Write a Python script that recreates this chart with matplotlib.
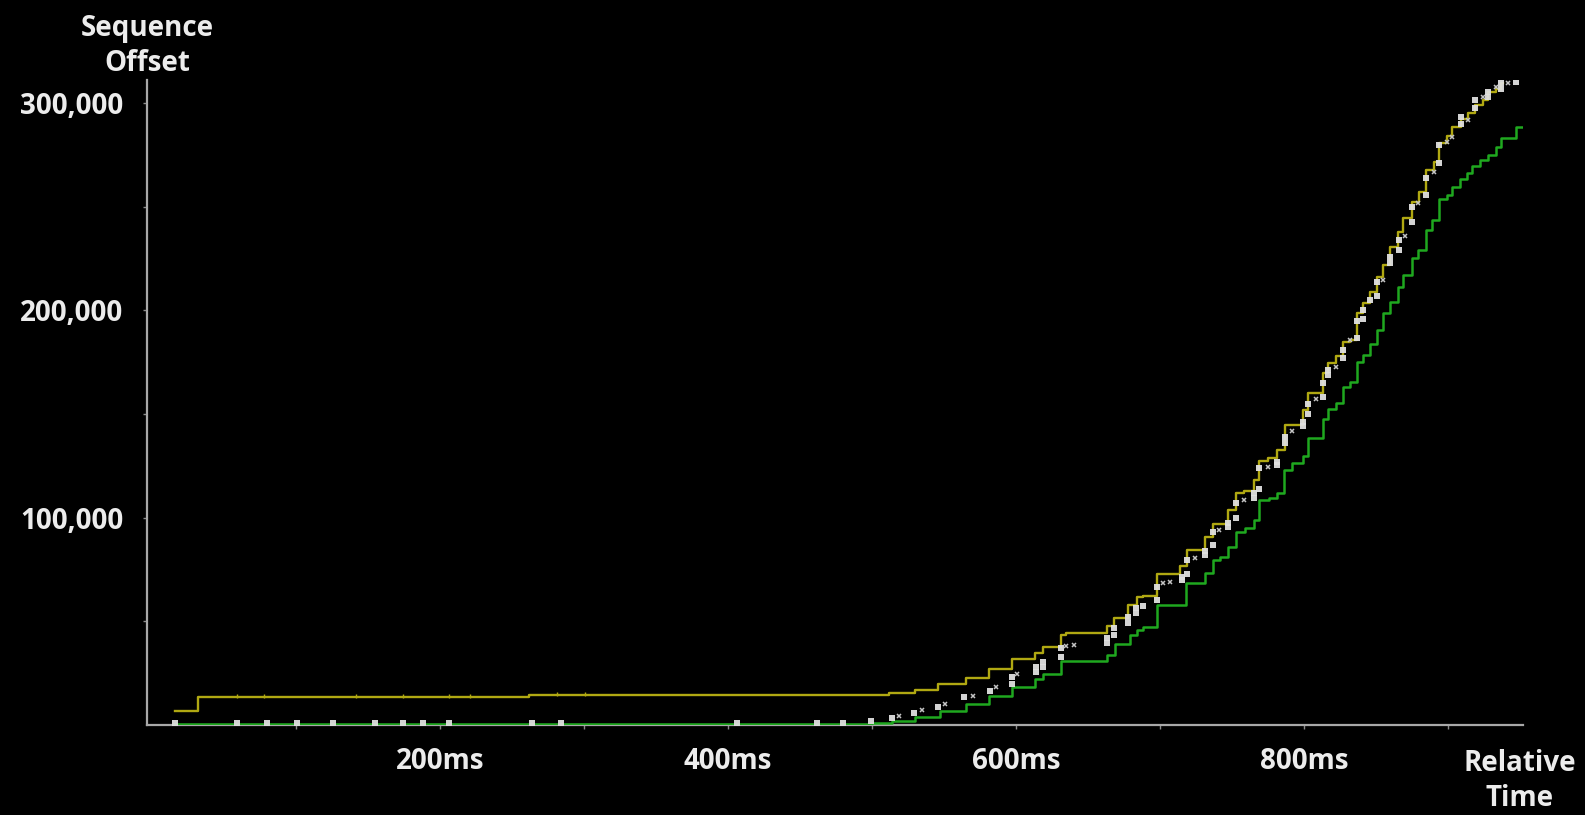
import matplotlib
matplotlib.use("Agg")
import matplotlib.pyplot as plt
from matplotlib.ticker import FixedLocator, FuncFormatter

plt.rcParams['font.family'] = ['Open Sans', 'DejaVu Sans']

# ACK line (ms, offset in thousands)
ack_t = [15, 499, 514, 530, 547, 565, 581, 597, 613, 619, 631, 663, 669, 679, 684, 688,
         698, 718, 731, 737, 742, 747, 753, 759, 765, 769, 776, 781, 786, 792, 799, 803,
         813, 817, 822, 827, 832, 837, 841, 846, 851, 855, 860, 865, 869, 875, 879, 885,
         889, 894, 899, 903, 908, 913, 917, 922, 928, 933, 937, 947, 953]
ack_s = [0.3, 0.8, 2.0, 4.0, 6.8, 10.1, 14.0, 18.3, 22.2, 24.6, 30.9, 33.8, 39.1, 43.4, 45.8, 47.3,
         57.9, 68.3, 73.2, 79.6, 81.2, 86.0, 93.2, 94.9, 98.9, 108.5, 109.5, 111.9, 123.0, 126.4, 129.5, 138.4,
         147.4, 152.2, 155.5, 162.8, 165.2, 174.9, 178.2, 183.5, 190.5, 198.7, 204.0, 211.2, 217.0, 225.2, 229.1, 238.7,
         243.5, 253.7, 255.6, 259.5, 263.4, 266.3, 269.7, 272.5, 275.0, 278.8, 283.2, 288.5, 288.5]

# receive window line
win_t = [16, 32, 262, 512, 530, 546, 565, 581, 597, 613, 619, 631, 635, 663, 668, 678,
         684, 688, 698, 714, 719, 731, 737, 747, 753, 758, 765, 769, 775, 781, 787, 799,
         803, 813, 817, 822, 827, 832, 837, 841, 846, 851, 855, 860, 865, 869, 875, 880,
         885, 890, 894, 899, 903, 909, 914, 919, 924, 928, 933, 937, 938]
win_s = [6.8, 13.5, 14.3, 15.4, 17.0, 19.8, 22.7, 27.0, 31.6, 34.7, 37.6, 43.4, 44.4, 47.8, 51.6, 57.9,
         61.7, 62.2, 72.6, 76.7, 84.4, 90.7, 97.0, 103.7, 111.9, 112.9, 118.2, 127.4, 128.8, 132.7, 144.7, 152.0,
         160.0, 169.8, 174.6, 178.0, 184.8, 185.7, 198.7, 203.6, 208.9, 216.0, 221.9, 230.6, 237.8, 244.6, 252.3, 257.0,
         267.7, 271.6, 280.8, 284.0, 288.5, 292.0, 295.0, 299.0, 301.5, 305.0, 306.8, 309.7, 309.7]

# little window update marks on the flat stretch
wtick_t = [59, 78, 142, 174, 206, 221, 281, 301]
wtick_s = [14.1, 14.1, 14.1, 14.1, 14.1, 14.1, 14.9, 14.9]

# data segments
seg_t = [16, 59, 80, 101, 126, 155, 174, 188, 206, 264, 284, 406, 462, 480, 499,
         514, 529, 546, 564, 582, 597, 597, 614, 614, 619, 619, 631, 631, 663, 663,
         668, 668, 678, 678, 683, 683, 688, 698, 698,
         715, 715, 719, 719, 731, 731, 737, 737, 747, 747, 753, 753, 765, 765, 769, 769,
         781, 781, 787, 787, 799, 799, 803, 803, 813, 813, 817, 817, 827, 827, 837, 837,
         841, 841, 846, 851, 851, 860, 860, 866, 866, 875, 875, 885, 885, 894, 894,
         909, 909, 919, 919, 928, 928, 937, 937, 947]
seg_s = [1.0, 1.0, 1.0, 1.0, 1.0, 1.0, 1.0, 1.0, 1.0, 1.0, 1.0, 1.0, 1.0, 1.0, 1.9,
         3.4, 5.8, 8.7, 13.5, 16.4, 20.0, 23.0, 25.6, 28.0, 28.0, 30.4, 32.8, 37.0, 39.6, 42.0,
         43.4, 46.8, 49.2, 52.0, 54.0, 56.4, 57.4, 60.3, 66.6,
         70.0, 71.4, 73.0, 79.6, 82.0, 84.0, 87.0, 93.0, 95.5, 97.4, 100.0, 107.0, 109.5, 112.0, 114.0, 124.0,
         125.4, 127.0, 136.0, 139.0, 144.0, 146.0, 150.0, 155.0, 158.0, 165.0, 169.0, 171.0, 177.0, 181.0, 186.7, 195.0,
         196.0, 200.0, 205.0, 207.0, 213.7, 222.9, 225.8, 229.0, 234.0, 242.6, 250.0, 255.7, 264.0, 271.0, 279.8,
         290.0, 293.0, 297.6, 301.5, 303.0, 305.0, 306.8, 309.7, 310.0]

# duplicate / sack marks
dup_t = [519, 535, 551, 570, 586, 601, 635, 640, 702, 707, 724, 741, 758, 775, 792, 808,
         822, 832, 855, 870, 879, 890, 899, 903, 914, 924, 933, 942]
dup_s = [4.3, 7.2, 10.1, 14.0, 18.3, 24.6, 38.0, 38.6, 68.5, 69.0, 80.5, 94.0, 108.5, 124.5, 142.0, 157.0,
         172.7, 185.7, 214.7, 236.0, 251.8, 266.8, 281.0, 283.6, 291.8, 303.0, 307.8, 309.7]

x_major = [200, 400, 600, 800]
x_minor = [100, 300, 500, 700, 900]
y_major = [100000, 200000, 300000]
y_minor = [50000, 150000, 250000]

fig = plt.figure(figsize=(15.85, 8.15), dpi=100, facecolor='black')
ax = fig.add_axes([0.0927, 0.1104, 0.8681, 0.7914])
ax.set_facecolor('black')

ax.step(win_t, [v * 1000 for v in win_s], where='post', color='#b0a812', lw=1.7, zorder=2)
ax.plot(wtick_t, [v * 1000 for v in wtick_s], ls='none', marker='|', ms=3, color='#b0a812', zorder=2)
ax.step(ack_t, [v * 1000 for v in ack_s], where='post', color='#1fa81f', lw=1.8, zorder=3)
ax.plot(seg_t, [v * 1000 for v in seg_s], ls='none', marker='s', ms=3.8, color='#e0e0e0',
        markeredgewidth=0, alpha=0.95, zorder=4)
ax.plot(dup_t, [v * 1000 for v in dup_s], ls='none', marker='x', ms=3.2, color='#c4c4c4',
        markeredgewidth=1.1, zorder=4)

ax.set_xlim(-3.5, 952)
ax.set_ylim(0, 311000)

for side in ['top', 'right']:
    ax.spines[side].set_visible(False)
for side in ['left', 'bottom']:
    ax.spines[side].set_color('#a8a8a8')
    ax.spines[side].set_linewidth(1.6)

ax.xaxis.set_major_locator(FixedLocator(x_major))
ax.xaxis.set_minor_locator(FixedLocator(x_minor))
ax.yaxis.set_major_locator(FixedLocator(y_major))
ax.yaxis.set_minor_locator(FixedLocator(y_minor))
ax.xaxis.set_major_formatter(FuncFormatter(lambda v, p: '%dms' % v))
ax.yaxis.set_major_formatter(FuncFormatter(lambda v, p: '{:,}'.format(int(v))))

ax.tick_params(which='both', colors='#8a8a8a', length=3, width=1)
ax.tick_params(axis='x', which='major', pad=13, labelsize=20, labelcolor='#ececec')
ax.tick_params(axis='y', which='major', pad=14, labelsize=20, labelcolor='#ececec')
for lab in ax.get_xticklabels() + ax.get_yticklabels():
    lab.set_fontweight('bold')

fig.text(147 / 1585, 1 - 46 / 815, 'Sequence\nOffset', ha='center', va='center', color='#ececec',
         fontsize=20, fontweight='bold', linespacing=1.3)
fig.text(1520 / 1585, 1 - 781 / 815, 'Relative\nTime', ha='center', va='center', color='#ececec',
         fontsize=20, fontweight='bold', linespacing=1.3)

fig.savefig('out.png', dpi=100, facecolor='black')
